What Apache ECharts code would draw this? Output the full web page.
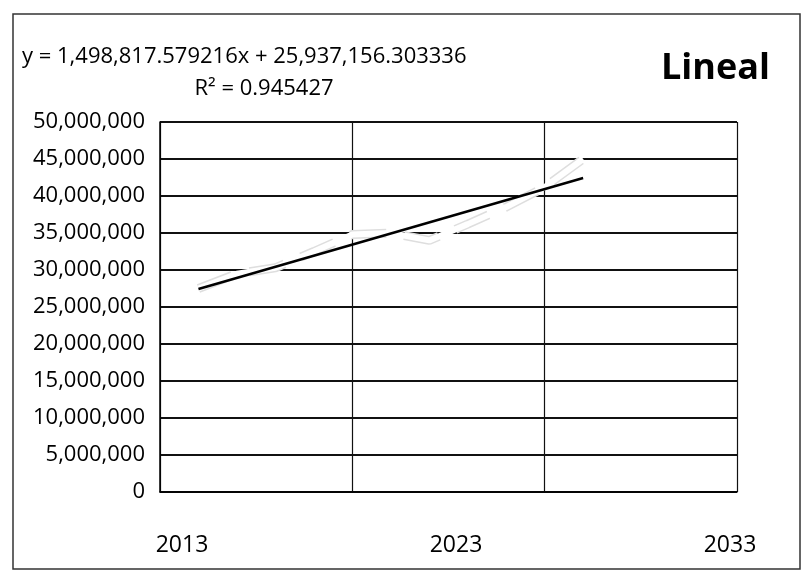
<!DOCTYPE html>
<html>
<head>
<meta charset="utf-8">
<script src="https://cdn.jsdelivr.net/npm/echarts@6/dist/echarts.min.js"></script>
<style>
  html, body { margin: 0; padding: 0; background: #fff; }
  #chart { width: 802px; height: 581px; }
</style>
</head>
<body>
<div id="chart"></div>
<script>
// ---- data ----
const pointIndex = [1, 2, 3, 4, 5, 6, 7, 8, 9, 10, 11];
const seriesValues = [27500000, 29500000, 30300000, 32500000, 34800000, 35000000, 34000000, 36200000, 38500000, 41200000, 45000000];
const trendIndex = [1, 11];
const trendValues = [27435974, 42424150];
const yearLabels = ['2013', '2023', '2033'];
const titleText = 'Lineal';
const equationText = 'y = 1,498,817.579216x + 25,937,156.303336';
const r2Text = 'R\u00B2 = 0.945427';

const FONT = '"Open Sans", "Noto Sans", sans-serif';

const chart = echarts.init(document.getElementById('chart'), null, { renderer: 'canvas' });

const dataPairs = pointIndex.map((x, i) => [x, seriesValues[i]]);
const trendPairs = trendIndex.map((x, i) => [x, trendValues[i]]);

chart.setOption({
  backgroundColor: '#ffffff',
  animation: false,
  title: [
    { text: titleText, left: 661, top: 51, padding: 0,
      textStyle: { fontFamily: FONT, fontWeight: 'bold', fontSize: 36, color: '#000' } },
    { text: equationText, left: 22, top: 46, padding: 0,
      textStyle: { fontFamily: FONT, fontWeight: 'normal', fontSize: 22, color: '#000' } },
    { text: r2Text, left: 264, top: 78, padding: 0, textAlign: 'center',
      textStyle: { fontFamily: FONT, fontWeight: 'normal', fontSize: 22, color: '#000' } }
  ],
  graphic: [
    { type: 'rect', silent: true, z: -1,
      shape: { x: 13, y: 14, width: 787, height: 555 },
      style: { fill: null, stroke: '#333', lineWidth: 1.5 } }
  ],
  grid: [
    { left: 160, right: 65, top: 122, bottom: 89, containLabel: false },
    { left: 182, right: 72, top: 122, bottom: 89, containLabel: false }
  ],
  xAxis: [
    { type: 'value', gridIndex: 0, min: 0, max: 15, interval: 5,
      axisLine: { show: true, onZero: false, lineStyle: { color: '#000', width: 1.5 } },
      axisTick: { show: false },
      axisLabel: { show: false },
      splitLine: { show: true, lineStyle: { color: '#111', width: 1.2 } } },
    { type: 'category', gridIndex: 1, data: yearLabels, boundaryGap: false,
      axisLine: { show: false }, axisTick: { show: false },
      splitLine: { show: false },
      axisLabel: { show: true, interval: 0, margin: 42, fontFamily: FONT, fontSize: 23, color: '#000' } }
  ],
  yAxis: [
    { type: 'value', gridIndex: 0, min: 0, max: 50000000, interval: 5000000,
      axisLine: { show: true, lineStyle: { color: '#000', width: 1.5 } },
      axisTick: { show: false },
      axisLabel: { margin: 15, fontFamily: FONT, fontSize: 22, color: '#000',
        formatter: v => Number(v).toLocaleString('en-US') },
      splitLine: { show: true, lineStyle: { color: '#111', width: 2 } } },
    { type: 'value', gridIndex: 1, min: 0, max: 1, show: false }
  ],
  series: [
    { type: 'line', xAxisIndex: 0, yAxisIndex: 0, data: dataPairs, z: 3,
      symbol: 'none', lineStyle: { color: '#dedede', width: 9, type: 'dashed' } },
    { type: 'line', xAxisIndex: 0, yAxisIndex: 0, data: dataPairs, z: 4,
      symbol: 'none', lineStyle: { color: '#ffffff', width: 6 } },
    { type: 'line', xAxisIndex: 0, yAxisIndex: 0, data: trendPairs, z: 5,
      symbol: 'none', lineStyle: { color: '#000', width: 2.5 } }
  ]
});
</script>
</body>
</html>
